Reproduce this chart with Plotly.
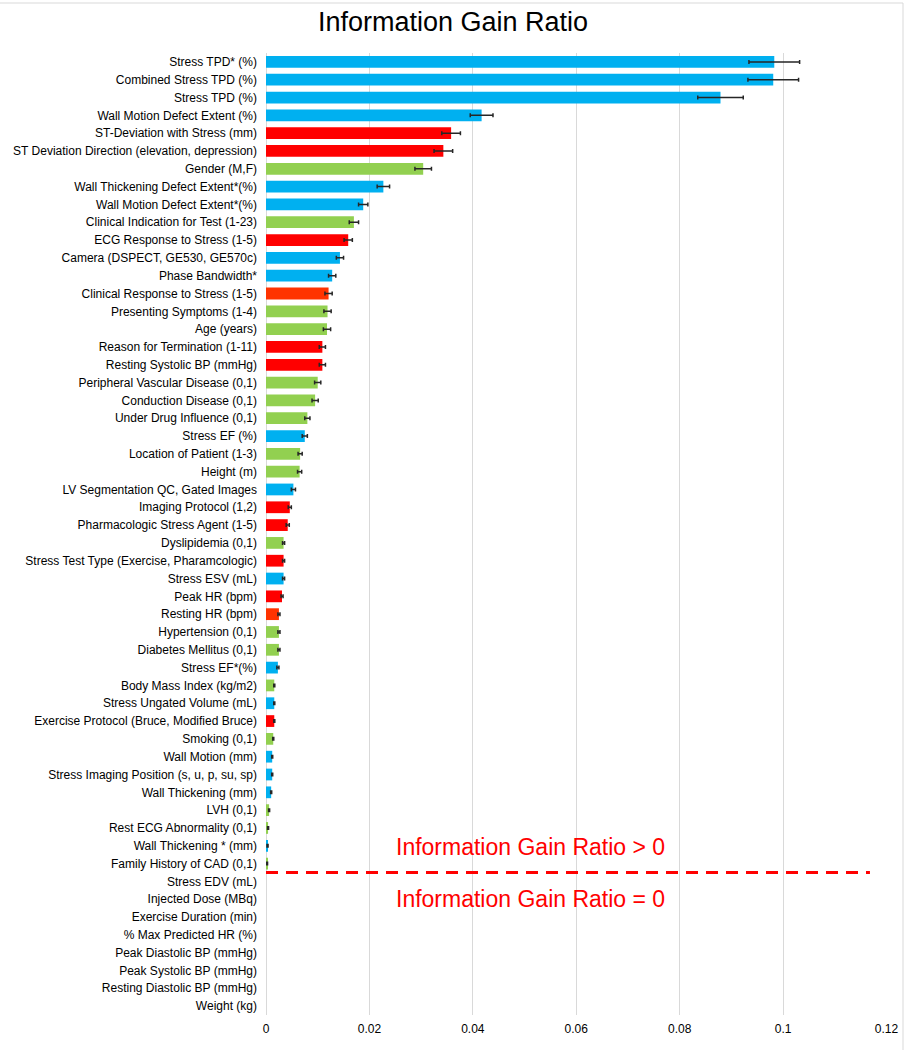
import plotly.graph_objects as go

features = [
    "Stress TPD* (%)", "Combined Stress TPD (%)", "Stress TPD (%)",
    "Wall Motion Defect Extent (%)", "ST-Deviation with Stress (mm)",
    "ST Deviation Direction (elevation, depression)", "Gender (M,F)",
    "Wall Thickening Defect Extent*(%)", "Wall Motion Defect Extent*(%)",
    "Clinical Indication for Test (1-23)", "ECG Response to Stress (1-5)",
    "Camera (DSPECT, GE530, GE570c)", "Phase Bandwidth*",
    "Clinical Response to Stress (1-5)", "Presenting Symptoms (1-4)",
    "Age (years)", "Reason for Termination (1-11)", "Resting Systolic BP (mmHg)",
    "Peripheral Vascular Disease (0,1)", "Conduction Disease (0,1)",
    "Under Drug Influence (0,1)", "Stress EF (%)", "Location of Patient (1-3)",
    "Height (m)", "LV Segmentation QC, Gated Images", "Imaging Protocol (1,2)",
    "Pharmacologic Stress Agent (1-5)", "Dyslipidemia (0,1)",
    "Stress Test Type (Exercise, Pharamcologic)", "Stress ESV (mL)",
    "Peak HR (bpm)", "Resting HR (bpm)", "Hypertension (0,1)",
    "Diabetes Mellitus (0,1)", "Stress EF*(%)", "Body Mass Index (kg/m2)",
    "Stress Ungated Volume (mL)", "Exercise Protocol (Bruce, Modified Bruce)",
    "Smoking (0,1)", "Wall Motion (mm)", "Stress Imaging Position (s, u, p, su, sp)",
    "Wall Thickening (mm)", "LVH (0,1)", "Rest ECG Abnormality (0,1)",
    "Wall Thickening * (mm)", "Family History of CAD (0,1)", "Stress EDV (mL)",
    "Injected Dose (MBq)", "Exercise Duration (min)", "% Max Predicted HR (%)",
    "Peak Diastolic BP (mmHg)", "Peak Systolic BP (mmHg)",
    "Resting Diastolic BP (mmHg)", "Weight (kg)",
]

gain_ratio = [
    0.0983, 0.0981, 0.0879, 0.0417, 0.0358, 0.0343, 0.0304, 0.0227, 0.0188,
    0.0170, 0.0159, 0.0143, 0.0128, 0.0121, 0.0119, 0.0118, 0.0109, 0.0109,
    0.0100, 0.0095, 0.0080, 0.0075, 0.0066, 0.0065, 0.0053, 0.0046, 0.0042,
    0.0034, 0.0034, 0.0034, 0.0031, 0.0025, 0.0025, 0.0025, 0.0023, 0.0016,
    0.0016, 0.0016, 0.0014, 0.0012, 0.0012, 0.0010, 0.0006, 0.0004, 0.0003,
    0.0002, 0, 0, 0, 0, 0, 0, 0, 0,
]

error = [
    0.0049, 0.0049, 0.0044, 0.0022, 0.0018, 0.0018, 0.0016, 0.0012, 0.0009,
    0.0009, 0.0008, 0.0007, 0.0007, 0.0007, 0.0007, 0.0007, 0.0006, 0.0006,
    0.0006, 0.0006, 0.0005, 0.0005, 0.0004, 0.0004, 0.0004, 0.0003, 0.0003,
    0.0002, 0.0002, 0.0002, 0.0002, 0.0002, 0.0002, 0.0002, 0.0002, 0.0001,
    0.0001, 0.0001, 0.0001, 0.0001, 0.0001, 0.0001, 0.0001, 0.0001, 0.0001,
    0.0001, 0, 0, 0, 0, 0, 0, 0, 0,
]

# B = imaging (blue), R = stress test (red), O = stress test (orange-red), G = clinical (green)
group = [
    "B", "B", "B", "B", "R", "R", "G", "B", "B", "G", "R", "B", "B", "O", "G",
    "G", "R", "R", "G", "G", "G", "B", "G", "G", "B", "R", "R", "G", "R", "B",
    "R", "O", "G", "G", "B", "G", "B", "R", "G", "B", "B", "B", "G", "G", "B",
    "G", "B", "B", "R", "R", "R", "R", "R", "G",
]

x_ticks = [0, 0.02, 0.04, 0.06, 0.08, 0.1, 0.12]
x_tick_labels = ["0", "0.02", "0.04", "0.06", "0.08", "0.1", "0.12"]

palette = {"B": "#00B0F0", "R": "#FF0000", "O": "#FF3300", "G": "#92D050"}

font_family = "Liberation Sans, Arial, sans-serif"

W, H = 906, 1050
ML, MR, MT, MB = 266, 19, 53, 35
PW, PH = W - ML - MR, H - MT - MB

pos = [i for i, v in enumerate(gain_ratio) if v > 0]
zero = [i for i, v in enumerate(gain_ratio) if v <= 0]

fig = go.Figure()
fig.add_trace(go.Bar(
    y=[features[i] for i in pos],
    x=[gain_ratio[i] for i in pos],
    orientation="h",
    marker=dict(color=[palette[group[i]] for i in pos], line=dict(width=0)),
    error_x=dict(type="data", array=[error[i] for i in pos],
                 visible=True, color="#262626", thickness=1.5, width=2),
    showlegend=False,
))
fig.add_trace(go.Bar(
    y=[features[i] for i in zero],
    x=[gain_ratio[i] for i in zero],
    orientation="h",
    marker=dict(color=[palette[group[i]] for i in zero], line=dict(width=0)),
    showlegend=False,
))

# separator between non-zero and zero gain ratio features
fig.add_shape(type="line", xref="x", yref="y",
              x0=0, x1=0.1168, y0=45.5, y1=45.5,
              line=dict(color="#FF0000", width=3, dash="12px,8px"))

fig.add_annotation(x=0.0512, y=44.07, xref="x", yref="y",
                   text="Information Gain Ratio &gt; 0", showarrow=False,
                   font=dict(family=font_family, size=23, color="#FF0000"))
fig.add_annotation(x=0.0512, y=46.97, xref="x", yref="y",
                   text="Information Gain Ratio = 0", showarrow=False,
                   font=dict(family=font_family, size=23, color="#FF0000"))

# light chart border (top and right)
top_y = (H - MB - 3) / PH
right_x = (903 - ML) / PW
fig.add_shape(type="line", xref="paper", yref="paper",
              x0=-ML / PW, x1=right_x, y0=top_y, y1=top_y,
              line=dict(color="#D9D9D9", width=1))
fig.add_shape(type="line", xref="paper", yref="paper",
              x0=right_x, x1=right_x, y0=-MB / PH, y1=top_y,
              line=dict(color="#D9D9D9", width=1))

fig.update_layout(
    width=W, height=H,
    margin=dict(l=ML, r=MR, t=MT, b=MB, autoexpand=False),
    paper_bgcolor="white", plot_bgcolor="white",
    barmode="overlay",
    bargap=0.34,
    title=dict(text="Information Gain Ratio", x=0.5, xanchor="center",
               y=1 - 22 / H, yanchor="middle",
               font=dict(family=font_family, size=27, color="#000000")),
    font=dict(family=font_family, size=12, color="#000000"),
    xaxis=dict(range=[0, 0.1201], tickvals=x_ticks, ticktext=x_tick_labels,
               showgrid=True, gridcolor="#D9D9D9", gridwidth=1,
               zeroline=True, zerolinecolor="#D9D9D9", zerolinewidth=1,
               showline=False, ticks="", ticklabelstandoff=5,
               tickfont=dict(size=12, color="#000000")),
    yaxis=dict(type="category", categoryorder="array", categoryarray=features,
               autorange="reversed", showgrid=False,
               ticks="", ticklabelstandoff=8, tickfont=dict(size=12, color="#000000")),
)

fig.write_html("out.html", config={"displayModeBar": False},
               post_script="document.body.style.margin='0px';")
